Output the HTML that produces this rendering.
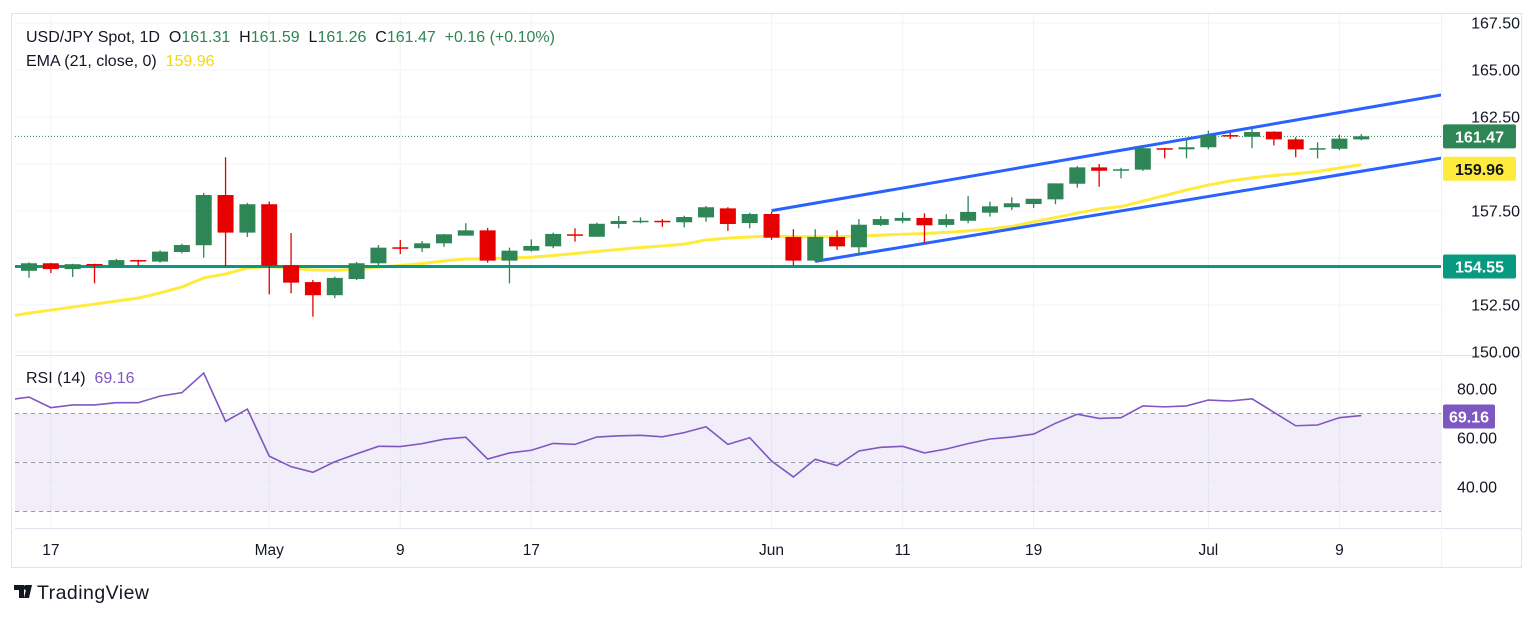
<!DOCTYPE html>
<html><head><meta charset="utf-8"><style>
body{margin:0;background:#fff;width:1536px;height:618px;overflow:hidden;font-family:"Liberation Sans",sans-serif}
svg{position:absolute;left:0;top:0}
text{white-space:pre}
</style></head><body>
<svg id="c" width="1536" height="618"></svg>
<script>
const opens=[154.32,154.72,154.41,154.68,154.57,154.89,154.81,155.32,155.68,158.35,156.35,157.86,154.61,153.72,153.02,153.88,154.72,155.57,155.52,155.78,156.19,156.47,154.86,155.39,155.62,156.26,156.13,156.81,156.91,156.98,156.90,157.16,157.64,156.86,157.34,156.12,154.86,156.12,155.57,156.76,156.98,157.13,156.76,156.98,157.41,157.70,157.87,158.12,158.95,159.82,159.66,159.70,160.84,160.78,160.89,161.54,161.45,161.72,161.31,160.78,160.81,161.31];
const highs=[154.77,154.74,154.69,154.70,154.95,154.91,155.41,155.76,158.46,160.36,157.93,158.00,156.33,153.83,154.01,154.79,155.69,155.96,155.90,156.28,156.85,156.60,155.55,155.99,156.35,156.58,156.88,157.23,157.16,157.07,157.25,157.77,157.70,157.41,157.46,156.53,156.53,156.47,157.07,157.23,157.43,157.38,157.33,158.30,158.00,158.23,158.15,158.97,159.89,160.00,159.80,160.90,160.86,161.37,161.77,161.66,161.90,161.74,161.42,161.15,161.56,161.59];
const lows=[153.95,154.20,153.99,153.65,154.52,154.57,154.75,155.25,155.02,154.54,156.12,153.07,153.12,151.88,152.86,153.83,154.63,155.21,155.32,155.59,156.19,154.75,153.65,155.34,155.52,155.87,156.13,156.58,156.85,156.66,156.63,156.93,156.44,156.58,155.96,154.59,154.79,155.43,155.16,156.70,156.85,155.81,156.63,156.85,157.20,157.55,157.66,157.86,158.74,158.79,159.24,159.63,160.30,160.30,160.78,161.33,160.84,160.99,160.36,160.30,160.74,161.26];
const closes=[154.72,154.41,154.67,154.63,154.89,154.86,155.34,155.69,158.35,156.35,157.86,154.59,153.69,153.02,153.94,154.72,155.55,155.53,155.78,156.26,156.47,154.86,155.39,155.64,156.28,156.21,156.82,156.97,156.98,156.90,157.18,157.70,156.81,157.34,156.08,154.86,156.12,155.62,156.77,157.07,157.13,156.74,157.07,157.45,157.75,157.91,158.15,158.97,159.82,159.64,159.72,160.84,160.78,160.89,161.53,161.51,161.70,161.31,160.78,160.84,161.35,161.47];
// EMA & RSI include one leading value for the bar before the first visible candle
const ema=[151.88,152.07,152.23,152.39,152.55,152.71,152.87,153.14,153.46,153.94,154.15,154.47,154.55,154.47,154.36,154.34,154.41,154.52,154.60,154.71,154.84,154.95,154.97,155.00,155.04,155.13,155.24,155.35,155.45,155.56,155.64,155.74,155.96,156.06,156.12,156.17,156.14,156.13,156.13,156.17,156.22,156.26,156.30,156.36,156.44,156.54,156.68,156.93,157.15,157.39,157.61,157.73,158.03,158.32,158.62,158.88,159.10,159.26,159.39,159.49,159.60,159.79,159.96];
const rsi=[75.5,76.7,72.4,73.5,73.5,74.4,74.4,77.1,78.5,86.5,66.8,71.8,52.6,48.3,46.0,50.3,53.5,56.6,56.5,57.7,59.5,60.3,51.4,53.9,55.0,57.8,57.4,60.4,60.9,61.1,60.5,62.2,64.6,57.4,60.1,50.6,44.1,51.3,48.7,54.7,56.2,56.6,53.9,55.5,57.7,59.6,60.4,61.6,66.0,69.7,68.0,68.3,73.1,72.7,73.1,75.5,75.1,76.0,70.5,65.0,65.3,68.3,69.16];
const priceTicks=[167.5,165,162.5,160,157.5,155,152.5,150];
const priceTickLabels=["167.50","165.00","162.50","","157.50","","152.50","150.00"];
const rsiTicks=[80,60,40];
const xLabels=["17","May","9","17","Jun","11","19","Jul","9"];
const xLabelIdx=[1,11,17,23,34,40,46,54,60];
const hLevel=154.55;
const channelUpper=[[34,157.52],[65,163.74]];
const channelLower=[[36,154.82],[65,160.38]];

const NS="http://www.w3.org/2000/svg",svg=document.getElementById('c');
const X=i=>29+i*21.84, Y=p=>70+(165-p)*18.8, R=v=>389+(80-v)*2.45;
const L=15,RGT=1441;
function mk(t,a,parent){const e=document.createElementNS(NS,t);for(const k in a)e.setAttribute(k,a[k]);(parent||svg).appendChild(e);return e;}
let e=mk('rect',{x:11.5,y:13.5,width:1510,height:554,fill:'none',stroke:'#e0e3eb'});


mk('line',{x1:L,x2:1521,y1:355.5,y2:355.5,stroke:'#e0e3eb'});
mk('line',{x1:L,x2:1521,y1:528.5,y2:528.5,stroke:'#e0e3eb'});
mk('line',{x1:RGT+0.5,x2:RGT+0.5,y1:14,y2:567,stroke:'#f0f3fa'});
mk('clipPath',{id:'cp'});mk('rect',{x:L,y:14,width:RGT-L,height:341},document.getElementById('cp'));
mk('clipPath',{id:'cr'});mk('rect',{x:L,y:356,width:RGT-L,height:172},document.getElementById('cr'));
priceTicks.forEach((p,k)=>{mk('line',{x1:L,x2:RGT,y1:Y(p),y2:Y(p),stroke:'#f0f3fa'});
 if(priceTickLabels[k]){const t=mk('text',{x:1520,y:Y(p)+5.5,'text-anchor':'end','font-size':16,fill:'#131722'});t.textContent=priceTickLabels[k];
 
 }});
xLabelIdx.forEach((i,k)=>{mk('line',{x1:X(i),x2:X(i),y1:14,y2:528,stroke:'#f0f3fa'});
 const t=mk('text',{x:X(i),y:555,'text-anchor':'middle','font-size':15.5,fill:'#131722'});t.textContent=xLabels[k];
 
 });
const band=mk('rect',{x:L,y:R(70),width:RGT-L,height:R(30)-R(70),fill:'#7e57c2','fill-opacity':0.1});


rsiTicks.forEach(v=>{mk('line',{x1:L,x2:RGT,y1:R(v),y2:R(v),stroke:'#f0f3fa'});
 const t=mk('text',{x:1497,y:R(v)+5.5,'text-anchor':'end','font-size':16,fill:'#131722'});t.textContent=v.toFixed(2);
 
 });
[70,50,30].forEach(v=>mk('line',{x1:L,x2:RGT,y1:R(v),y2:R(v),stroke:'#9598a1','stroke-dasharray':'4 4'}));
const gr=mk('g',{'clip-path':'url(#cr)'});
const rl=mk('polyline',{points:rsi.map((v,k)=>X(k-1)+','+R(v)).join(' '),fill:'none',stroke:'#7e57c2','stroke-width':1.6},gr);


const g=mk('g',{'clip-path':'url(#cp)'});
mk('line',{x1:L,x2:RGT,y1:Y(closes[closes.length-1]),y2:Y(closes[closes.length-1]),stroke:'#2e8555','stroke-dasharray':'1 2'},g);
const el=mk('polyline',{points:ema.map((v,k)=>X(k-1)+','+Y(v)).join(' '),fill:'none',stroke:'#ffeb3b','stroke-width':3},g);


const hl=mk('line',{x1:L,x2:RGT,y1:Y(hLevel),y2:Y(hLevel),stroke:'#089981','stroke-width':3},g);


function chan(c,name){const x1=X(c[0][0]),y1=Y(c[0][1]),x2=X(c[1][0]),y2=Y(c[1][1]);
 const xe=1445,ye=y1+(y2-y1)*(xe-x1)/(x2-x1);
 const l=mk('line',{x1:x1,y1:y1,x2:xe,y2:ye,stroke:'#2962ff','stroke-width':3},g);
 
 }
chan(channelUpper,'channel-upper-line');chan(channelLower,'channel-lower-line');
opens.forEach((o,i)=>{const c=closes[i],up=c>=o,col=up?'#2e8555':'#e60000',x=X(i);
 const cg=mk('g',{},g);
 
 
 mk('line',{x1:x,x2:x,y1:Y(highs[i]),y2:Y(lows[i]),stroke:col,'stroke-width':1.3},cg);
 const t=Y(Math.max(o,c)),b=Y(Math.min(o,c));
 mk('rect',{x:x-8,y:t,width:16,height:Math.max(1.5,b-t),fill:col},cg);});
function tag(y,bg,fg,txt,name,w){const r=mk('rect',{x:1443,y:y-12,width:w||73,height:24,rx:2,fill:bg});
 
 
 const t=mk('text',{x:1443+(w||73)/2,y:y+6,'text-anchor':'middle','font-size':16,fill:fg,'font-weight':'bold'});t.textContent=txt;}
tag(Y(closes[closes.length-1]),'#2e8555','#fff',closes[closes.length-1].toFixed(2),'last-price-label');
tag(Y(ema[ema.length-1])+4,'#ffeb3b','#131722',ema[ema.length-1].toFixed(2),'ema-price-label');
tag(Y(hLevel),'#089981','#fff',hLevel.toFixed(2),'support-price-label');
tag(R(rsi[rsi.length-1])+1,'#7e57c2','#fff',rsi[rsi.length-1].toFixed(2),'rsi-value-label',52);
function txt(x,y,parts,name){const t=mk('text',{x:x,y:y,'font-size':16});
 
 
 parts.forEach(p=>{const s=mk('tspan',{fill:p[1]},t);s.textContent=p[0];});}
const G='#2e8555',K='#131722';
txt(26,42,[['USD/JPY Spot, 1D  O',K],['161.31',G],['  H',K],['161.59',G],['  L',K],['161.26',G],['  C',K],['161.47',G],['  +0.16 (+0.10%)',G]],'ohlc-legend');
txt(26,66,[['EMA (21, close, 0)  ',K],['159.96','#f5d90a']],'ema-legend');
txt(26,383,[['RSI (14)  ',K],['69.16','#7e57c2']],'rsi-legend');
const lg=mk('g',{});


mk('path',{d:'M14 585h10v13h-5v-8h-5z M27 585h5l-3 13h-5z',fill:'#131722'},lg);
mk('circle',{cx:26,cy:587.5,r:2.5,fill:'#131722'},lg);
const tl=mk('text',{x:37,y:599,'font-size':19.5,fill:'#131722',textLength:112},lg);tl.textContent='TradingView';
</script>
</body></html>
